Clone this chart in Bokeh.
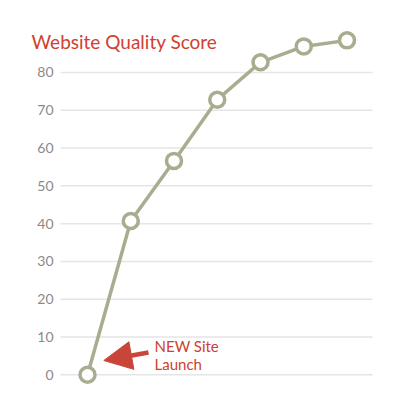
from bokeh.plotting import figure
from bokeh.models import Label, Arrow, NormalHead, Range1d, FixedTicker, LinearAxis
from bokeh.embed import file_html
from bokeh.resources import INLINE

# data
steps = [0, 1, 2, 3, 4, 5, 6]
scores = [0, 40.7, 56.6, 72.8, 82.7, 86.9, 88.5]
y_ticks = [0, 10, 20, 30, 40, 50, 60, 70, 80]
title_text = "Website Quality Score"
note_lines = ["NEW Site", "Launch"]

OLIVE = "#a9ad8f"
RED = "#d0402f"
ARROW_RED = "#c9453a"

X0, X1 = -2.012, 7.237
Y0, Y1 = -6.80, 99.05
GRID_LEFT, GRID_RIGHT = -0.624, 6.59

p = figure(width=400, height=400, output_backend="svg", toolbar_location=None,
           x_range=Range1d(X0, X1), y_range=Range1d(Y0, Y1),
           x_axis_location=None, y_axis_location=None,
           min_border_left=0, min_border_right=0, min_border_top=0, min_border_bottom=0)
p.outline_line_color = None
p.background_fill_color = "white"
p.border_fill_color = "white"
p.grid.visible = False

# horizontal grid lines, limited to the plotting band
p.segment(x0=[GRID_LEFT] * len(y_ticks), x1=[GRID_RIGHT] * len(y_ticks),
          y0=y_ticks, y1=y_ticks, line_color="#e5e5e5", line_width=1.5)

# y axis drawn inside the frame at the grid's left edge
ax = LinearAxis(fixed_location=GRID_LEFT, ticker=FixedTicker(ticks=y_ticks))
ax.axis_line_color = None
ax.major_tick_line_color = None
ax.minor_tick_line_color = None
ax.major_tick_out = 0
ax.major_tick_in = 0
ax.major_label_standoff = 7
ax.major_label_text_font = "Lato"
ax.major_label_text_font_size = "14px"
ax.major_label_text_color = "#8a8a8a"
p.add_layout(ax, "left")

p.line(steps, scores, line_color=OLIVE, line_width=3.5)
p.scatter(steps, scores, size=15, fill_color="white", line_color=OLIVE, line_width=3.5)

# title
p.add_layout(Label(x=-1.295, y=88.2, text=title_text, text_font="Lato",
                   text_font_size="19px", text_color=RED, text_baseline="alphabetic"))

# annotation
p.add_layout(Arrow(end=NormalHead(size=28, fill_color=ARROW_RED, line_color=ARROW_RED),
                   x_start=1.41, y_start=5.90, x_end=0.377, y_end=3.78,
                   line_color=ARROW_RED, line_width=4.5))
p.add_layout(Label(x=1.55, y=7.75, text=note_lines[0], text_font="Lato",
                   text_font_size="15px", text_color=RED, text_baseline="alphabetic"))
p.add_layout(Label(x=1.55, y=2.91, text=note_lines[1], text_font="Lato",
                   text_font_size="15px", text_color=RED, text_baseline="alphabetic"))

open("out.html", "w").write(file_html(p, INLINE))
